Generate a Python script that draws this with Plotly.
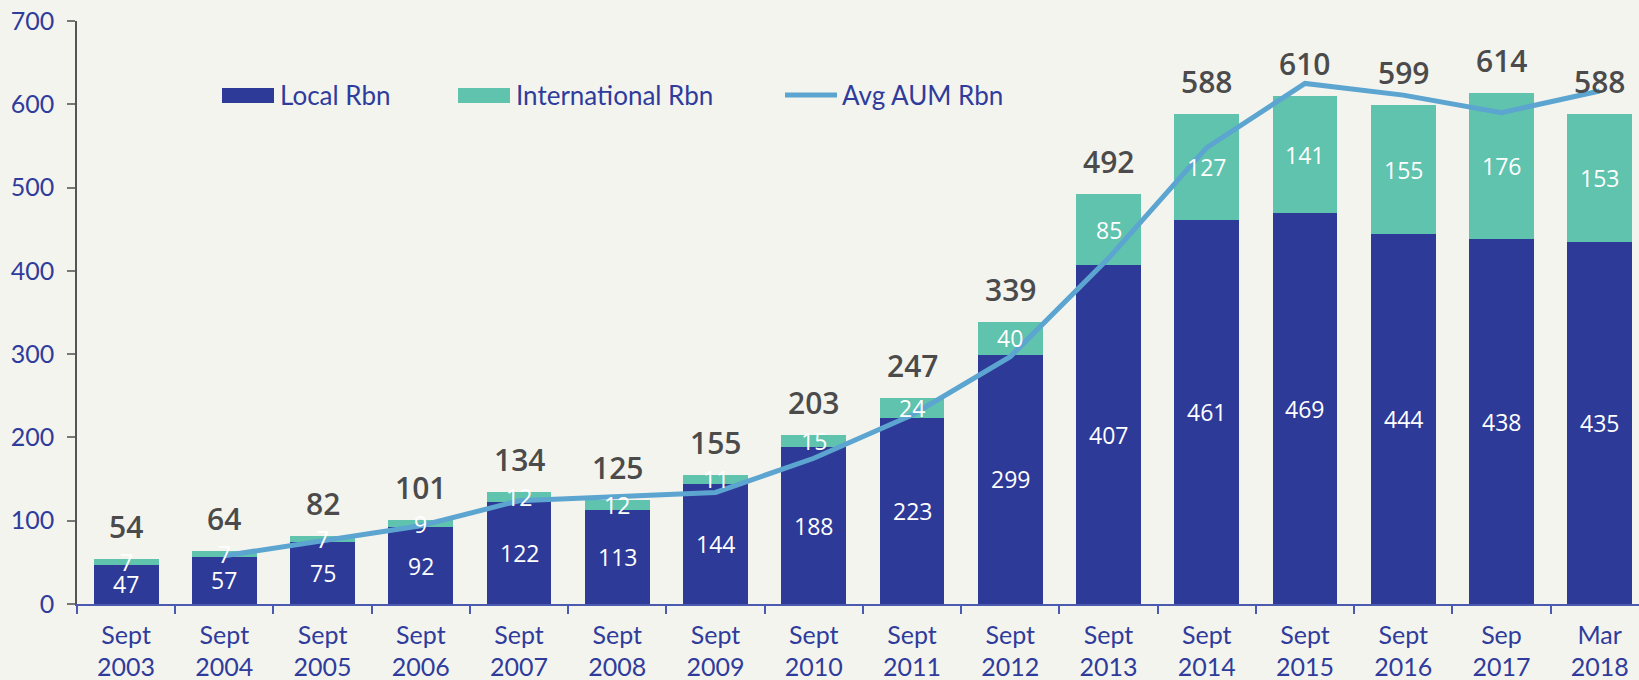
import plotly.graph_objects as go

# ---- data ----
categories = ["Sept<br>2003", "Sept<br>2004", "Sept<br>2005", "Sept<br>2006", "Sept<br>2007",
              "Sept<br>2008", "Sept<br>2009", "Sept<br>2010", "Sept<br>2011", "Sept<br>2012",
              "Sept<br>2013", "Sept<br>2014", "Sept<br>2015", "Sept<br>2016", "Sep<br>2017",
              "Mar<br>2018"]
local_rbn = [47, 57, 75, 92, 122, 113, 144, 188, 223, 299, 407, 461, 469, 444, 438, 435]
intl_rbn = [7, 7, 7, 9, 12, 12, 11, 15, 24, 40, 85, 127, 141, 155, 176, 153]
totals = [54, 64, 82, 101, 134, 125, 155, 203, 247, 339, 492, 588, 610, 599, 614, 588]
avg_aum = [None, 58, 76, 94, 124, 129, 134, 175, 227, 297, 415, 548, 625, 611, 590, 616]

# ---- styles ----
W, H = 1639, 680
ML, MR, MT, MB = 77, 0, 21, 76
BG = "#F4F4EF"
C_LOCAL = "#2D3A98"
C_INTL = "#5FC3AD"
C_LINE = "#5CA5D0"
C_TEXT = "#2F3C9C"
C_TOTAL = "#4B4B4B"
NUM_FONT = "Open Sans"
AX_FONT = "Lato"
LEG_FONT = "Lato"

fig = go.Figure()
fig.add_trace(go.Bar(x=categories, y=local_rbn, name="Local Rbn", marker_color=C_LOCAL,
                     marker_line_width=0, width=0.66, showlegend=False))
fig.add_trace(go.Bar(x=categories, y=intl_rbn, name="International Rbn", marker_color=C_INTL,
                     marker_line_width=0, width=0.66, showlegend=False))
fig.add_trace(go.Scatter(x=categories, y=avg_aum, name="Avg AUM Rbn", mode="lines",
                         line=dict(color=C_LINE, width=5), connectgaps=False, showlegend=False))

annotations = []
for c, l, i, t in zip(categories, local_rbn, intl_rbn, totals):
    annotations.append(dict(x=c, y=l / 2, text=str(l), showarrow=False,
                            font=dict(family=NUM_FONT, size=23, color="white")))
    annotations.append(dict(x=c, y=l + i / 2, text=str(i), showarrow=False,
                            font=dict(family=NUM_FONT, size=23, color="white")))
    annotations.append(dict(x=c, y=t, text=str(t), showarrow=False, yanchor="bottom", yshift=10,
                            font=dict(family=NUM_FONT, size=30, color=C_TOTAL, weight=600)))

# ---- custom legend (pixel helpers) ----
PW = W - ML - MR
PH = H - MT - MB


def px(xp):
    return (xp - ML) / PW


def py(yp):
    return (H - MB - yp) / PH


shapes = [
    dict(type="rect", xref="paper", yref="paper", x0=px(222), x1=px(274), y0=py(103), y1=py(88),
         fillcolor=C_LOCAL, line_width=0),
    dict(type="rect", xref="paper", yref="paper", x0=px(458), x1=px(510), y0=py(103), y1=py(88),
         fillcolor=C_INTL, line_width=0),
    dict(type="line", xref="paper", yref="paper", x0=px(785), x1=px(837), y0=py(95), y1=py(95),
         line=dict(color=C_LINE, width=5)),
]
for xt, txt in [(278, "Local Rbn"), (514, "International Rbn"), (840, "Avg AUM Rbn")]:
    annotations.append(dict(xref="paper", yref="paper", x=px(xt), y=py(95), xanchor="left",
                            yanchor="middle", text=txt, showarrow=False,
                            font=dict(family=LEG_FONT, size=26, color=C_TEXT)))

fig.update_layout(
    barmode="stack",
    width=W, height=H,
    margin=dict(l=ML, r=MR, t=MT, b=MB),
    paper_bgcolor=BG, plot_bgcolor=BG,
    annotations=annotations,
    shapes=shapes,
    showlegend=False,
)
fig.update_xaxes(type="category", range=[-0.5, 15.4], showgrid=False, showline=True,
                 linecolor="#4A5AB0", linewidth=1.5, ticks="outside", tickson="boundaries",
                 ticklen=8, tickcolor="#4A5AB0", tickwidth=1.5,
                 tickfont=dict(family=AX_FONT, size=25, color=C_TEXT), ticklabelstandoff=8)
fig.update_yaxes(range=[0, 700], dtick=100, showgrid=False, zeroline=False, showline=True,
                 linecolor="#555555", linewidth=1.5, ticks="outside", ticklen=8,
                 tickcolor="#777777", tickwidth=1.5,
                 tickfont=dict(family=AX_FONT, size=25, color=C_TEXT), ticklabelstandoff=8)

fig.write_html("out.html", config={"displayModeBar": False},
               post_script="document.body.style.margin='0';document.body.style.overflow='hidden';"
                           "document.body.style.background='" + BG + "';")
